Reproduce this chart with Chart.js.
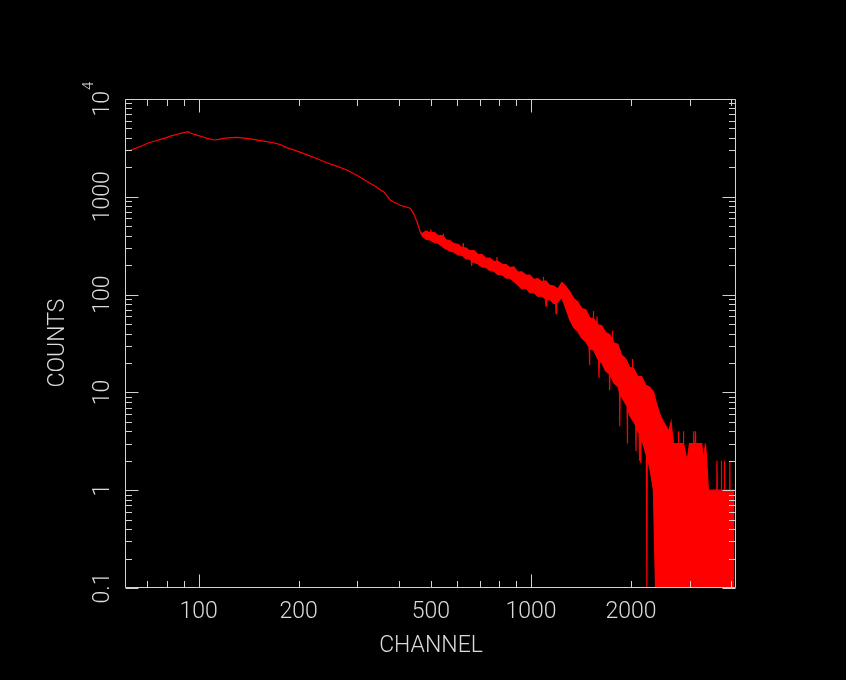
<!DOCTYPE html>
<html><head><meta charset="utf-8">
<script src="https://cdn.jsdelivr.net/npm/chart.js@4.4.1/dist/chart.umd.min.js"></script>
<style>html,body{margin:0;padding:0;background:#000;}canvas{display:block;background:#000;}</style>
</head><body>
<canvas id="c" width="846" height="680"></canvas>
<script>
// Upper envelope of the spectrum (also the single line in the smooth low-channel part)
const upperChannels = [60,62.5,64.5,67,70.7,74,76.7,80,82.2,85,88.1,91.2,93,94.4,97,101,106,111,115,119,125,130,135,140,146,153,160,168,176,184,198,212,227,243,260,279,300,321,340,352,360,377,385,404,433,443,454,464,
  470,483,497,499,500,501,511,525,540,544,545,546,555,570,586,603,620,624,625,626,637,655,673,692,712,732,752,773,789,790,791,795,818,841,864,888,913,939,965,992,1020,1049,1078,1089,1090,1091,1108,1140,1172,1204,1238,1273,1309,1346,1383,1422,1462,1503,1538,1540,1542,1545,1578,1580,1582,1589,1633,1679,1726,1758,1760,1762,1775,1825,1876,1928,1982,2018,2020,2022,2038,2095,2154,2215,2277,2340,
  2370,2440,2503,2600,2640,2683,2770,2777,2784,2868,2875,2882,2950,3000,3080,3088,3096,3118,3125,3132,3200,3265,3300,3350,3380,3420,3620,3628,3636,3732,3740,3748,3812,3820,3828,3957,3965,3973,4096];
const upperCounts = [2960,3010,3130,3290,3570,3720,3870,4030,4180,4300,4460,4560,4630,4490,4340,4180,3960,3810,3860,3960,4030,4060,4010,3960,3860,3750,3660,3570,3420,3180,2930,2680,2450,2230,2060,1880,1650,1430,1280,1174,1127,928,891,820,763,678,556,440,
  420,448,425,428,462,427,432,402,400,396,418,395,362,356,332,326,302,303,335,302,300,280,283,258,256,236,236,218,220,242,219,220,204,203,189,192,170,171,159,158,143,146,135,137,152,137,138,124,122,114,133,121,107,91,84,72,70,58,57,68,57,57,51,60,51,49,48,41,39,35,43,35,32,31,24,22,18,17.7,22,17.6,17.5,14.5,14.5,11.8,11.3,10,
  8.4,6,5,4,5,3,3,4,3,3,4,3,2,3,3,4,3,3,4,3,3,3,2,3,2,1,1,2,1,1,2,1,1,2,1,1,2,1,1];
// Lower envelope of the noisy high-channel band (0.1 = empty channels at the floor)
const lowerChannels = [464,470,483,497,511,525,540,555,570,586,603,620,637,655,661,663,665,673,692,712,732,752,773,795,818,841,864,888,913,939,965,992,1020,1049,1078,1106,1110,1114,1140,1172,1186,1190,1194,1204,1238,1273,1309,1346,1383,1422,1462,1496,1500,1504,1545,1589,1598,1602,1606,1633,1679,1721,1725,1729,1775,1825,1846,1850,1854,1876,1928,1946,1950,1954,1982,2038,2066,2070,2074,2095,2116,2120,2124,2136,2140,2144,2154,2215,2226,2232,2238,2277,2336,2370,4096];
const lowerCounts = [440,400,368,362,342,336,310,292,280,272,255,252,232,231,222,196,220,213,207,192,190,176,174,160,160,147,148,137,126,114,117,104,105,96,97,90,76,89,89,81,82,64,82,83,94,72,55,46,42,36,33,29,19,28,27,22,21.5,14,21,20,16.5,15.5,10.5,15.3,12.5,11.5,10,4.5,9.6,9,7.6,7.2,3,7,5.8,5,4.6,2.5,4.5,4,3.8,2,3.7,3.6,1.9,3.5,3.5,2.4,2.2,0.1,2.1,1.7,1,0.1,0.1];

const xTickLabels = [100,200,500,1000,2000];
const xMajorTicks = [100,1000];
const xMinorTicks = [70,80,90,200,300,400,500,600,700,800,900,2000,3000,4000];
const yTickLabels = [0.1,1,10,100,1000];
const yDecades = [0.1,1,10,100,1000,10000];
const xLabel = 'CHANNEL';
const yLabel = 'COUNTS';

const FONT = 'Roboto, "Liberation Sans", sans-serif';
const frameColor = '#d2d2d2';
const textColor = '#dadada';

const axisPlugin = {
  id: 'axisFrame',
  afterDatasetsDraw(chart) {
    const {ctx, chartArea: a, scales: {x, y}} = chart;
    ctx.save();
    ctx.strokeStyle = frameColor;
    ctx.lineWidth = 1;
    const L = Math.round(a.left) + 0.5, R = Math.round(a.right) - 0.5;
    const T = Math.round(a.top) + 0.5, B = Math.round(a.bottom) - 0.5;
    ctx.beginPath();
    ctx.rect(L, T, R - L, B - T);
    const xt = (v, len) => {
      const p = Math.round(x.getPixelForValue(v)) + 0.5;
      ctx.moveTo(p, B); ctx.lineTo(p, B - len);
      ctx.moveTo(p, T); ctx.lineTo(p, T + len);
    };
    const yt = (v, len) => {
      const p = Math.round(y.getPixelForValue(v)) + 0.5;
      ctx.moveTo(L, p); ctx.lineTo(L + len, p);
      ctx.moveTo(R, p); ctx.lineTo(R - len, p);
    };
    xMajorTicks.forEach(v => xt(v, 13));
    xMinorTicks.forEach(v => xt(v, 6.5));
    yDecades.forEach(d => {
      yt(d, 13);
      if (d < 10000) for (let k = 2; k <= 9; k++) yt(d * k, 6.5);
    });
    ctx.stroke();

    ctx.fillStyle = textColor;
    ctx.font = '300 23px ' + FONT;
    ctx.textAlign = 'center';
    ctx.textBaseline = 'alphabetic';
    xTickLabels.forEach(v => ctx.fillText(String(v), x.getPixelForValue(v), 618));
    ctx.fillText(xLabel, 431, 652);

    const rot = (cx, cy, fn) => {
      ctx.save(); ctx.translate(cx, cy); ctx.rotate(-Math.PI / 2); fn(); ctx.restore();
    };
    yTickLabels.forEach(v => rot(108.5, y.getPixelForValue(v), () => ctx.fillText(String(v), 0, 0)));
    rot(108.5, y.getPixelForValue(10000), () => {
      ctx.textAlign = 'right';
      ctx.fillText('10', 8, 0);
      ctx.textAlign = 'left';
      ctx.font = '300 15px ' + FONT;
      ctx.fillText('4', 9, -15.5);
    });
    ctx.font = '300 23px ' + FONT;
    ctx.textAlign = 'center';
    rot(63.5, 343, () => ctx.fillText(yLabel, 0, 0));
    ctx.restore();
  }
};

new Chart(document.getElementById('c'), {
  type: 'line',
  data: {
    datasets: [
      {
        label: 'upper',
        data: upperChannels.map((c, i) => ({x: c, y: upperCounts[i]})),
        borderColor: '#ff0000', backgroundColor: '#ff0000',
        borderWidth: 1.2, pointRadius: 0, tension: 0, fill: false
      },
      {
        label: 'lower',
        data: lowerChannels.map((c, i) => ({x: c, y: lowerCounts[i]})),
        borderColor: '#ff0000', backgroundColor: '#ff0000',
        borderWidth: 1.2, pointRadius: 0, tension: 0, fill: '-1'
      }
    ]
  },
  options: {
    responsive: false,
    animation: false,
    events: [],
    layout: {padding: {left: 125, top: 99, right: 110, bottom: 92}},
    plugins: {legend: {display: false}, tooltip: {enabled: false}, title: {display: false}},
    scales: {
      x: {type: 'logarithmic', min: 60, max: 4140, display: false},
      y: {type: 'logarithmic', min: 0.1, max: 10000, display: false}
    }
  },
  plugins: [axisPlugin]
});
</script>
</body></html>
